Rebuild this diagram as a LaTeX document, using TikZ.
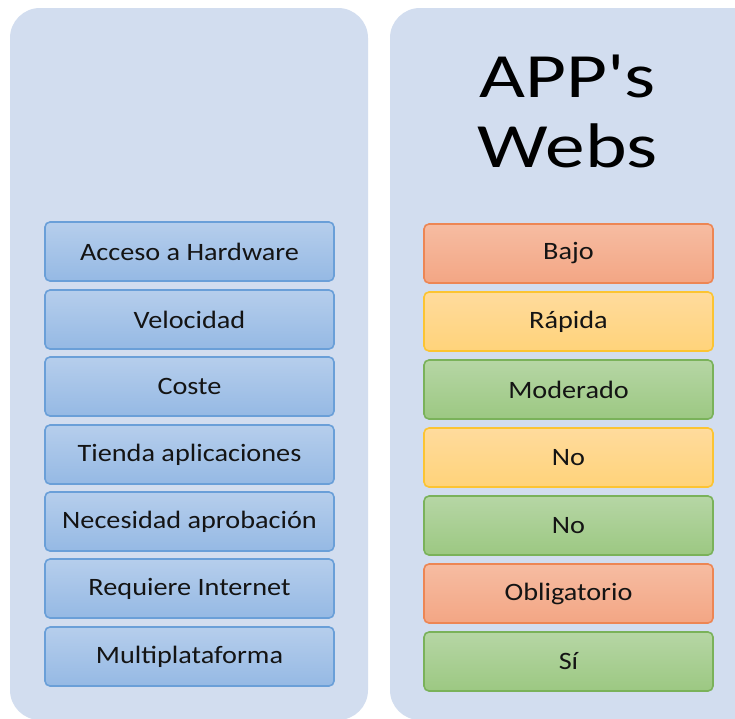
\documentclass[tikz,border=0pt]{standalone}
\usepackage{fontspec}
\newfontfamily\boxfont[FakeStretch=1.13]{Carlito}
\newfontfamily\titlefont[FakeStretch=1.26]{Carlito}
\definecolor{panelbg}{RGB}{210,221,239}
\definecolor{bluedraw}{RGB}{106,159,216}
\definecolor{bluetop}{RGB}{182,206,236}
\definecolor{bluebot}{RGB}{149,185,228}
\definecolor{orangedraw}{RGB}{237,134,84}
\definecolor{orangetop}{RGB}{246,188,162}
\definecolor{orangebot}{RGB}{243,166,132}
\definecolor{yellowdraw}{RGB}{252,196,50}
\definecolor{yellowtop}{RGB}{255,219,157}
\definecolor{yellowbot}{RGB}{255,211,122}
\definecolor{greendraw}{RGB}{122,178,90}
\definecolor{greentop}{RGB}{182,214,165}
\definecolor{greenbot}{RGB}{156,200,130}
\definecolor{textcol}{RGB}{20,20,20}
\tikzset{
  panel/.style={fill=panelbg, draw=none, rounded corners=30pt},
  cell/.style={rectangle, rounded corners=5pt, line width=1.6pt,
    minimum width=289pt, minimum height=59pt, inner sep=0pt,
    font=\boxfont\fontsize{25}{30}\selectfont, text=textcol},
  bluecell/.style={cell, draw=bluedraw, top color=bluetop, bottom color=bluebot},
  orangecell/.style={cell, draw=orangedraw, top color=orangetop, bottom color=orangebot},
  yellowcell/.style={cell, draw=yellowdraw, top color=yellowtop, bottom color=yellowbot},
  greencell/.style={cell, draw=greendraw, top color=greentop, bottom color=greenbot},
  titletext/.style={anchor=base, inner sep=0pt, text=black,
    font=\titlefont\fontsize{63}{70}\selectfont}
}
\begin{document}
\begin{tikzpicture}[x=1pt, y=-1pt]
  \useasboundingbox (0,0) rectangle (735,718);
  \clip (0,0) rectangle (735,718);
  \fill[white] (0,0) rectangle (735,718);

  % the two columns
  \fill[panel] (10,8) rectangle (368,720);
  \fill[panel] (390,8) rectangle (765,720);

  % heading of the right column
  \node[titletext] (title1) at (567.5,97) {APP's};
  \node[titletext] (title2) at (567.5,167) {Webs};

  % criteria
  \node[bluecell] (c1) at (189.5,251.5) {Acceso a Hardware};
  \node[bluecell] (c2) at (189.5,319.5) {Velocidad};
  \node[bluecell] (c3) at (189.5,386.5) {Coste};
  \node[bluecell] (c4) at (189.5,454.5) {Tienda aplicaciones};
  \node[bluecell] (c5) at (189.5,521.5) {Necesidad aprobación};
  \node[bluecell] (c6) at (189.5,588.5) {Requiere Internet};
  \node[bluecell] (c7) at (189.5,656.5) {Multiplataforma};

  % values for web apps
  \node[orangecell] (v1) at (568.5,253.5) {Bajo};
  \node[yellowcell] (v2) at (568.5,321.5) {Rápida};
  \node[greencell]  (v3) at (568.5,389.5) {Moderado};
  \node[yellowcell] (v4) at (568.5,457.5) {No};
  \node[greencell]  (v5) at (568.5,525.5) {No};
  \node[orangecell] (v6) at (568.5,593.5) {Obligatorio};
  \node[greencell]  (v7) at (568.5,661.5) {Sí};
\end{tikzpicture}
\end{document}
